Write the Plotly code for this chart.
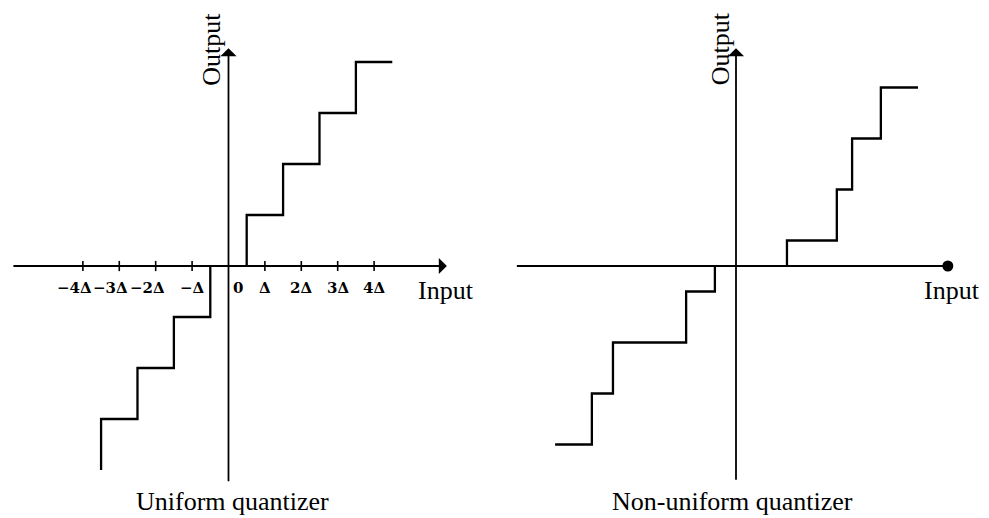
import plotly.graph_objects as go

# ---- Uniform quantizer (input in units of Δ, output in quantization steps) ----
uniform_pos_edges = [0.5, 1.5, 2.5, 3.5]
uniform_pos_levels = [1, 2, 3, 4]
uniform_pos_end = 4.5
uniform_neg_edges = [-0.5, -1.5, -2.5, -3.5]
uniform_neg_levels = [-1, -2, -3, -4]
uniform_neg_end = None  # last riser has no tread

# ---- Non-uniform quantizer ----
nonuni_pos_edges = [1.40, 2.77, 3.19, 3.98]
nonuni_pos_levels = [0.5, 1.5, 2.5, 3.5]
nonuni_pos_end = 5.0
nonuni_neg_edges = [-0.58, -1.37, -3.38, -3.96]
nonuni_neg_levels = [-0.5, -1.5, -2.5, -3.5]
nonuni_neg_end = -4.97

# ---- Input-axis tick marks on the uniform panel ----
tick_positions = [-4, -3, -2, -1, 1, 2, 3, 4]
tick_labels = ["\u22124\u0394", "\u22123\u0394", "\u22122\u0394", "\u2212\u0394",
               "\u0394", "2\u0394", "3\u0394", "4\u0394"]

# axis extents (data units) for each panel
left_xspan, left_yspan = (-5.95, 6.0), (-4.25, 4.27)
right_xspan, right_yspan = (-6.02, 5.82), (-4.22, 4.27)

SERIF = "Liberation Serif"
BOLD = "DejaVu Serif"
INK = "#000000"


def staircase(edges, levels, end):
    xs, ys = [], []
    prev = 0
    for e, lv in zip(edges, levels):
        xs += [e, e]
        ys += [prev, lv]
        prev = lv
    if end is not None:
        xs.append(end)
        ys.append(prev)
    return xs, ys


def both_branches(pe, pl, pend, ne, nl, nend):
    px, py = staircase(pe, pl, pend)
    nx, ny = staircase(ne, nl, nend)
    return px + [None] + nx, py + [None] + ny


fig = go.Figure()

ux, uy = both_branches(uniform_pos_edges, uniform_pos_levels, uniform_pos_end,
                       uniform_neg_edges, uniform_neg_levels, uniform_neg_end)
fig.add_trace(go.Scatter(x=ux, y=uy, mode="lines", xaxis="x", yaxis="y",
                         line=dict(color=INK, width=2.3), hoverinfo="skip"))

nx, ny = both_branches(nonuni_pos_edges, nonuni_pos_levels, nonuni_pos_end,
                       nonuni_neg_edges, nonuni_neg_levels, nonuni_neg_end)
fig.add_trace(go.Scatter(x=nx, y=ny, mode="lines", xaxis="x2", yaxis="y2",
                         line=dict(color=INK, width=2.3), hoverinfo="skip"))

# small tick marks on the uniform input axis
tx, ty = [], []
for t in tick_positions:
    tx += [t, t, None]
    ty += [-0.1, 0.1, None]
fig.add_trace(go.Scatter(x=tx, y=ty, mode="lines", xaxis="x", yaxis="y",
                         line=dict(color=INK, width=1.6), hoverinfo="skip"))

# non-uniform input axis, closed by a dot
fig.add_trace(go.Scatter(x=[right_xspan[0], right_xspan[1]], y=[0, 0], mode="lines",
                         xaxis="x2", yaxis="y2", line=dict(color=INK, width=1.8),
                         hoverinfo="skip"))
fig.add_trace(go.Scatter(x=[right_xspan[1]], y=[0], mode="markers", xaxis="x2", yaxis="y2",
                         marker=dict(color=INK, size=11), hoverinfo="skip"))

annotations = []


def arrow(xref, yref, x0, y0, x1, y1):
    annotations.append(dict(x=x1, y=y1, ax=x0, ay=y0, xref=xref, yref=yref,
                            axref=xref, ayref=yref, text="", showarrow=True,
                            arrowhead=1, arrowsize=1.5, arrowwidth=1.8,
                            arrowcolor=INK, standoff=0))


# uniform panel axes
arrow("x", "y", left_xspan[0], 0, left_xspan[1], 0)
arrow("x", "y", 0, left_yspan[0], 0, left_yspan[1])
# non-uniform panel vertical axis
arrow("x2", "y2", 0, right_yspan[0], 0, right_yspan[1])

tick_font = dict(family=BOLD, size=15, color=INK, weight="bold")
for t, lab in zip(tick_positions, tick_labels):
    has_digit = any(ch.isdigit() for ch in lab)
    neg = lab.startswith("\u2212")
    annotations.append(dict(x=t, y=0, xref="x", yref="y", text=lab, showarrow=False,
                            xanchor="right" if (neg and has_digit) else "center",
                            xshift=11 if (neg and has_digit) else 0,
                            yanchor="middle", yshift=-22, font=tick_font))
annotations.append(dict(x=0, y=0, xref="x", yref="y", text="0", showarrow=False,
                        xanchor="left", xshift=3, yanchor="middle", yshift=-22,
                        font=tick_font))

text_font = dict(family=SERIF, size=26, color=INK)
annotations += [
    dict(x=left_xspan[1], y=0, xref="x", yref="y", text="Input", showarrow=False,
         xanchor="center", xshift=-1, yanchor="middle", yshift=-24, font=text_font),
    dict(x=right_xspan[1], y=0, xref="x2", yref="y2", text="Input", showarrow=False,
         xanchor="center", xshift=4, yanchor="middle", yshift=-24, font=text_font),
    dict(x=0, y=left_yspan[1], xref="x", yref="y", text="Output", showarrow=False,
         textangle=-90, xanchor="center", xshift=-17, yanchor="middle", yshift=-1,
         font=text_font),
    dict(x=0, y=right_yspan[1], xref="x2", yref="y2", text="Output", showarrow=False,
         textangle=-90, xanchor="center", xshift=-16, yanchor="middle", yshift=-1,
         font=text_font),
    dict(x=0, y=-4.62, xref="x", yref="y", text="Uniform quantizer", showarrow=False,
         xanchor="center", xshift=4, yanchor="middle", font=text_font),
    dict(x=0, y=-4.62, xref="x2", yref="y2", text="Non-uniform quantizer", showarrow=False,
         xanchor="center", xshift=-4, yanchor="middle", font=text_font),
]

hidden = dict(visible=False, showgrid=False, zeroline=False, fixedrange=True)
fig.update_layout(
    width=989, height=518,
    margin=dict(l=0, r=0, t=0, b=0),
    paper_bgcolor="white", plot_bgcolor="white",
    showlegend=False,
    xaxis=dict(domain=[0, 0.5], range=[-6.277, 7.308], **hidden),
    yaxis=dict(domain=[0, 1], range=[-4.941, 5.216], **hidden),
    xaxis2=dict(domain=[0.5, 1], range=[-6.635, 6.951], anchor="y2", **hidden),
    yaxis2=dict(domain=[0, 1], range=[-4.941, 5.216], anchor="x2", **hidden),
    annotations=annotations,
)

fig.write_html("out.html")
